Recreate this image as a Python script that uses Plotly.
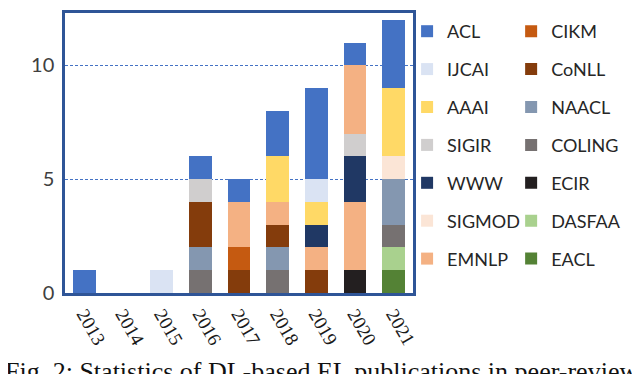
import plotly.graph_objects as go

years = ["2013", "2014", "2015", "2016", "2017", "2018", "2019", "2020", "2021"]

# counts per venue and year
acl = [1, 0, 0, 1, 1, 2, 4, 1, 3]
ijcai = [0, 0, 1, 0, 0, 0, 1, 0, 0]
aaai = [0, 0, 0, 0, 0, 2, 1, 0, 3]
sigir = [0, 0, 0, 1, 0, 0, 0, 1, 0]
www = [0, 0, 0, 0, 0, 0, 1, 2, 0]
sigmod = [0, 0, 0, 0, 0, 0, 0, 0, 1]
emnlp = [0, 0, 0, 0, 2, 1, 1, 3, 0]
emnlp_top = [0, 0, 0, 0, 0, 0, 0, 3, 0]  # second EMNLP block drawn higher in 2020
cikm = [0, 0, 0, 0, 1, 0, 0, 0, 0]
conll = [0, 0, 0, 2, 1, 1, 1, 0, 0]
naacl = [0, 0, 0, 1, 0, 1, 0, 0, 2]
coling = [0, 0, 0, 1, 0, 1, 0, 0, 1]
ecir = [0, 0, 0, 0, 0, 0, 0, 1, 0]
dasfaa = [0, 0, 0, 0, 0, 0, 0, 0, 1]
eacl = [0, 0, 0, 0, 0, 0, 0, 0, 1]

# bottom -> top stacking order: (name, values, color, legend, rank, show in legend)
series = [
    ("EACL", eacl, "#548235", "legend2", 7, True),
    ("DASFAA", dasfaa, "#A9D18E", "legend2", 6, True),
    ("ECIR", ecir, "#231F20", "legend2", 5, True),
    ("COLING", coling, "#767171", "legend2", 4, True),
    ("NAACL", naacl, "#8497B0", "legend2", 3, True),
    ("CoNLL", conll, "#843C0C", "legend2", 2, True),
    ("CIKM", cikm, "#C55A11", "legend2", 1, True),
    ("EMNLP", emnlp, "#F4B183", "legend", 7, True),
    ("WWW", www, "#203864", "legend", 5, True),
    ("SIGMOD", sigmod, "#FBE5D6", "legend", 6, True),
    ("AAAI", aaai, "#FFD966", "legend", 3, True),
    ("IJCAI", ijcai, "#DAE3F3", "legend", 2, True),
    ("SIGIR", sigir, "#D0CECE", "legend", 4, True),
    ("EMNLP", emnlp_top, "#F4B183", "legend", 8, False),
    ("ACL", acl, "#4472C4", "legend", 1, True),
]

fig = go.Figure()
for name, vals, color, leg, rank, show in series:
    fig.add_trace(
        go.Bar(
            x=years,
            y=[v if v else None for v in vals],
            name=name,
            marker=dict(color=color, line=dict(width=0)),
            legend=leg,
            legendrank=rank,
            legendgroup=name + leg + str(rank),
            showlegend=show,
        )
    )

legend_style = dict(
    font=dict(family="Lato", size=18, color="#262626"),
    traceorder="grouped",
    tracegroupgap=11.5,
    bgcolor="rgba(0,0,0,0)",
    xanchor="left",
    yanchor="top",
    y=1.0,
)

fig.update_layout(
    barmode="stack",
    bargap=0.42,
    width=640,
    height=374,
    margin=dict(l=57, r=235, t=2, b=89),
    plot_bgcolor="white",
    paper_bgcolor="white",
    legend=dict(x=0.983, **legend_style),
    legend2=dict(x=1.282, **legend_style),
    xaxis=dict(
        tickangle=60,
        tickfont=dict(family="Liberation Serif", size=19, color="#1a1a1a"),
        showline=True,
        mirror=True,
        linecolor="#2F5597",
        linewidth=2.5,
        ticks="",
        range=[-0.5, 8.5],
    ),
    yaxis=dict(
        range=[0, 12.3],
        tickvals=[0, 5, 10],
        tickfont=dict(family="Lato", size=20, color="#404040"),
        ticklabelstandoff=4,
        showgrid=True,
        gridcolor="#4472C4",
        griddash="3px,2px",
        gridwidth=1,
        zeroline=False,
        showline=True,
        mirror=True,
        linecolor="#2F5597",
        linewidth=2.5,
        ticks="",
    ),
    annotations=[
        dict(
            text="Fig. 2: Statistics of DL-based EL publications in peer-reviewed venues.",
            xref="paper",
            yref="paper",
            x=-0.178,
            y=-0.223,
            xanchor="left",
            yanchor="top",
            showarrow=False,
            font=dict(family="Liberation Serif", size=26, color="#111111"),
        )
    ],
)

fig.write_html("out.html")
